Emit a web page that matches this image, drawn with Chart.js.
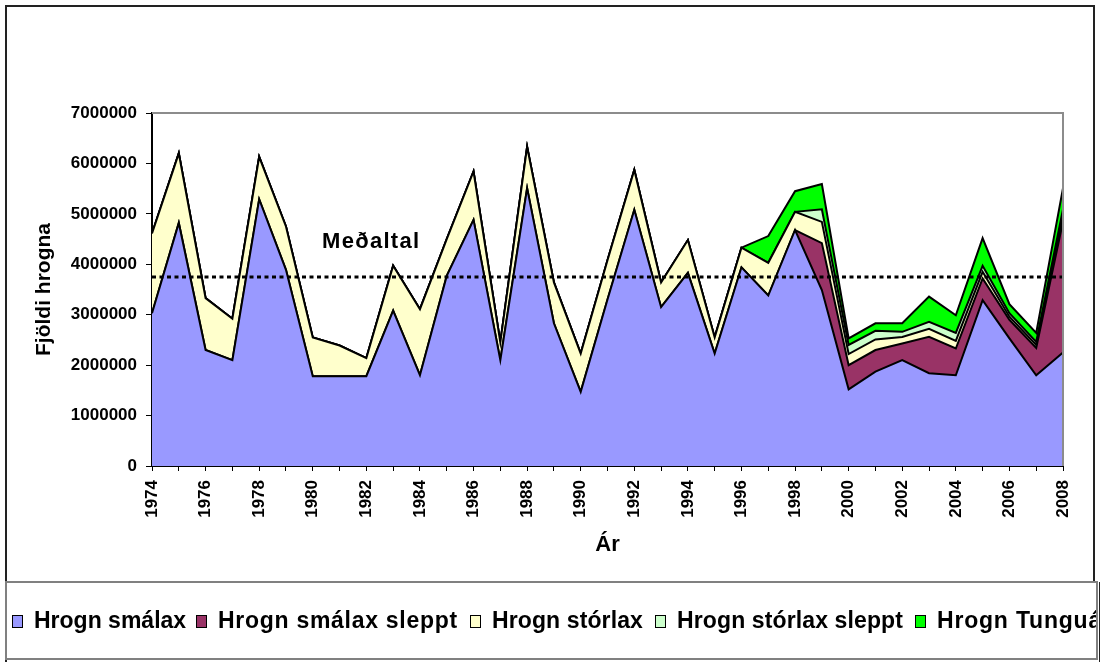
<!DOCTYPE html>
<html>
<head>
<meta charset="utf-8">
<script src="https://cdn.jsdelivr.net/npm/chart.js@4"></script>
<style>
html,body{margin:0;padding:0;background:#fff;}
canvas{display:block;}
</style>
</head>
<body>
<canvas id="c" width="1101" height="662" style="width:1101px;height:662px"></canvas>
<script>
const years = [1974,1975,1976,1977,1978,1979,1980,1981,1982,1983,1984,1985,1986,1987,1988,1989,1990,1991,1992,1993,1994,1995,1996,1997,1998,1999,2000,2001,2002,2003,2004,2005,2006,2007,2008];
const smalax = [3030000,4820000,2300000,2100000,5290000,3890000,1780000,1780000,1780000,3080000,1800000,3770000,4880000,2100000,5510000,2830000,1470000,3300000,5080000,3150000,3830000,2230000,3940000,3380000,4680000,3490000,1520000,1870000,2100000,1840000,1800000,3290000,2530000,1800000,2250000];
const smalaxSleppt = [0,0,0,0,0,0,0,0,0,0,0,0,0,0,0,0,0,0,0,0,0,0,0,0,0,930000,480000,430000,330000,720000,530000,430000,370000,540000,2600000];
const storlax = [1580000,1380000,1030000,820000,840000,860000,770000,610000,360000,890000,1310000,730000,960000,350000,820000,810000,760000,780000,790000,490000,650000,320000,390000,650000,360000,420000,220000,210000,130000,160000,150000,130000,60000,60000,120000];
const storlaxSleppt = [0,0,0,0,0,0,0,0,0,0,0,0,0,0,0,0,0,0,0,0,0,0,0,0,0,250000,180000,170000,100000,140000,160000,120000,70000,60000,120000];
const tungua = [0,0,0,0,0,0,0,0,0,0,0,0,0,0,0,0,0,0,0,0,0,0,0,530000,410000,500000,130000,150000,170000,500000,350000,550000,180000,180000,420000];
const medaltal = years.map(() => 3750000);
const seriesNames = ['Hrogn smálax','Hrogn smálax sleppt','Hrogn stórlax','Hrogn stórlax sleppt','Hrogn Tunguá'];
const seriesColors = ['#9999FF','#993366','#FFFFCC','#CCFFCC','#00FF00'];
const yTicks = [0,1000000,2000000,3000000,4000000,5000000,6000000,7000000];
const avgLabel = 'Meðaltal';

const FONT = '"Liberation Sans", Arial, Helvetica, sans-serif';
const seriesData = [smalax, smalaxSleppt, storlax, storlaxSleppt, tungua];
const legendX = [12, 196, 470, 655, 915];

const datasets = seriesData.map((d, i) => ({
  label: seriesNames[i],
  data: d,
  backgroundColor: seriesColors[i],
  borderColor: '#000',
  borderWidth: 2,
  fill: i === 0 ? 'origin' : '-1',
  pointRadius: 0,
  tension: 0,
  stack: 'main',
  order: 1
}));
datasets.push({
  label: avgLabel,
  data: medaltal,
  borderColor: '#000',
  borderWidth: 3,
  borderDash: [4, 3.5],
  fill: false,
  pointRadius: 0,
  stack: 'avg',
  order: -1
});

const decor = {
  id: 'decor',
  beforeDraw(chart) {
    const ctx = chart.ctx;
    ctx.save();
    ctx.fillStyle = '#fff';
    ctx.fillRect(0, 0, chart.width, chart.height);
    ctx.restore();
  },
  afterDatasetsDraw(chart) {
    const ctx = chart.ctx;
    const a = chart.chartArea;
    ctx.save();
    ctx.strokeStyle = '#8c8c8c';
    ctx.lineWidth = 2;
    ctx.beginPath();
    ctx.moveTo(a.left, a.top);
    ctx.lineTo(a.right, a.top);
    ctx.lineTo(a.right, a.bottom);
    ctx.stroke();
    ctx.fillStyle = '#000';
    ctx.font = 'bold 22px ' + FONT;
    ctx.textBaseline = 'middle';
    ctx.textAlign = 'left';
    try { ctx.letterSpacing = '1.3px'; } catch(e) {}
    ctx.fillText(avgLabel, 322, 242);
    try { ctx.letterSpacing = '0px'; } catch(e) {}
    ctx.restore();
  },
  afterDraw(chart) {
    const ctx = chart.ctx;
    ctx.save();
    ctx.strokeStyle = '#222';
    ctx.lineWidth = 2;
    ctx.beginPath();
    ctx.moveTo(6, 662);
    ctx.lineTo(6, 6);
    ctx.lineTo(1094, 6);
    ctx.lineTo(1094, 582);
    ctx.stroke();
    ctx.strokeStyle = '#808080';
    ctx.lineWidth = 2;
    ctx.strokeRect(6, 582, 1091, 77);
    ctx.strokeStyle = '#222';
    ctx.lineWidth = 1;
    ctx.beginPath();
    ctx.moveTo(1099.5, 582);
    ctx.lineTo(1099.5, 662);
    ctx.stroke();
    ctx.beginPath();
    ctx.rect(7, 583, 1089, 75);
    ctx.clip();
    ctx.font = 'bold 23px ' + FONT;
    ctx.textBaseline = 'middle';
    ctx.textAlign = 'left';
    const cy = 621;
    for (let i = 0; i < seriesNames.length; i++) {
      const x = legendX[i];
      const next = i + 1 < legendX.length ? legendX[i + 1] - 12 : 1200;
      ctx.fillStyle = seriesColors[i];
      ctx.fillRect(x, cy - 6, 10, 12);
      ctx.strokeStyle = '#000';
      ctx.lineWidth = 1;
      ctx.strokeRect(x + 0.5, cy - 5.5, 10, 12);
      ctx.fillStyle = '#000';
      const tx = x + 22;
      let ls = 0;
      if (i + 1 < legendX.length) {
        const w0 = ctx.measureText(seriesNames[i]).width;
        ls = Math.max(0, (next - tx - w0) / (seriesNames[i].length));
      } else {
        ls = 0.8;
      }
      try { ctx.letterSpacing = ls.toFixed(2) + 'px'; } catch(e) {}
      ctx.fillText(seriesNames[i], tx, cy + 1);
      try { ctx.letterSpacing = '0px'; } catch(e) {}
    }
    ctx.restore();
  }
};

new Chart(document.getElementById('c'), {
  type: 'line',
  data: { labels: years.map(String), datasets },
  options: {
    responsive: false,
    animation: false,
    events: [],
    layout: { padding: { left: 8, top: 113, right: 38, bottom: 96 } },
    plugins: { legend: { display: false }, tooltip: { enabled: false } },
    elements: { point: { radius: 0 }, line: { tension: 0 } },
    scales: {
      x: {
        offset: false,
        grid: { display: true, drawOnChartArea: false, tickLength: 5, color: '#000', tickColor: '#000', tickWidth: 1 },
        border: { display: true, color: '#000', width: 2 },
        ticks: {
          autoSkip: false, maxRotation: 90, minRotation: 90, padding: 9,
          color: '#000', font: { family: FONT, size: 17, weight: 'bold' },
          callback: function(v, i) { return i % 2 === 0 ? years[i] : ''; }
        },
        title: { display: true, text: 'Ár', color: '#000', font: { family: FONT, size: 22, weight: 'bold' }, padding: { top: 0, bottom: 8 } },
        afterFit: s => { s.height = 100; }
      },
      y: {
        stacked: true,
        min: 0, max: 7000000,
        afterBuildTicks: s => { s.ticks = yTicks.map(v => ({ value: v })); },
        grid: { display: true, drawOnChartArea: false, tickLength: 6, color: '#000', tickColor: '#000', tickWidth: 1 },
        border: { display: true, color: '#000', width: 2 },
        ticks: {
          padding: 9, color: '#000', font: { family: FONT, size: 17, weight: 'bold' },
          callback: v => String(v)
        },
        title: { display: true, text: 'Fjöldi hrogna', color: '#000', font: { family: FONT, size: 21, weight: 'bold' }, padding: { top: 24, bottom: 0 } },
        afterFit: s => { s.width = 144; }
      }
    }
  },
  plugins: [decor]
});
</script>
</body>
</html>
